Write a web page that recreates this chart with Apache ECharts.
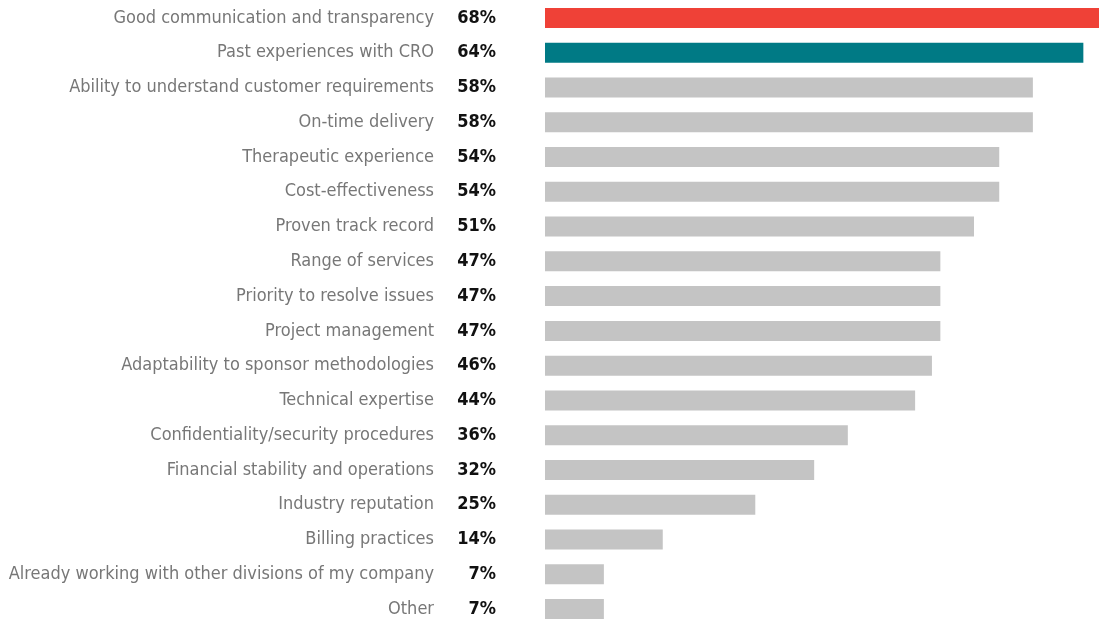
<!DOCTYPE html>
<html>
<head>
<meta charset="utf-8">
<script src="https://cdn.jsdelivr.net/npm/echarts@6/dist/echarts.min.js"></script>
<style>
  html, body { margin: 0; padding: 0; background: #fff; }
  #chart { width: 1099px; height: 620px; }
</style>
</head>
<body>
<div id="chart"></div>
<script>
var categories = [
    'Good communication and transparency',
    'Past experiences with CRO',
    'Ability to understand customer requirements',
    'On-time delivery',
    'Therapeutic experience',
    'Cost-effectiveness',
    'Proven track record',
    'Range of services',
    'Priority to resolve issues',
    'Project management',
    'Adaptability to sponsor methodologies',
    'Technical expertise',
    'Confidentiality/security procedures',
    'Financial stability and operations',
    'Industry reputation',
    'Billing practices',
    'Already working with other divisions of my company',
    'Other'
];
var values = [68, 64, 58, 58, 54, 54, 51, 47, 47, 47, 46, 44, 36, 32, 25, 14, 7, 7];
var barColors = ['#ef4137', '#007a85'];
var defaultColor = '#c4c4c4';

var font = '"DejaVu Sans Condensed", "Liberation Sans Narrow", sans-serif';

var chart = echarts.init(document.getElementById('chart'));

var option = {
    animation: false,
    grid: {
        left: 545,
        right: -18,
        top: 0.5,
        height: 626,
        containLabel: false,
        outerBoundsMode: 'none'
    },
    xAxis: {
        type: 'value',
        min: 0,
        max: 68,
        show: false
    },
    yAxis: {
        type: 'category',
        inverse: true,
        data: categories,
        axisLine: { show: false },
        axisTick: { show: false },
        axisLabel: {
            margin: 111,
            color: '#777777',
            fontFamily: font,
            fontSize: 18
        }
    },
    series: [{
        type: 'bar',
        barWidth: 20,
        data: values.map(function (v, i) {
            return {
                value: v,
                itemStyle: { color: barColors[i] || defaultColor }
            };
        }),
        label: {
            show: true,
            position: 'left',
            distance: 49,
            formatter: '{c}%',
            color: '#111',
            fontFamily: font,
            fontWeight: 'bold',
            fontSize: 18
        }
    }]
};

chart.setOption(option);
</script>
</body>
</html>
